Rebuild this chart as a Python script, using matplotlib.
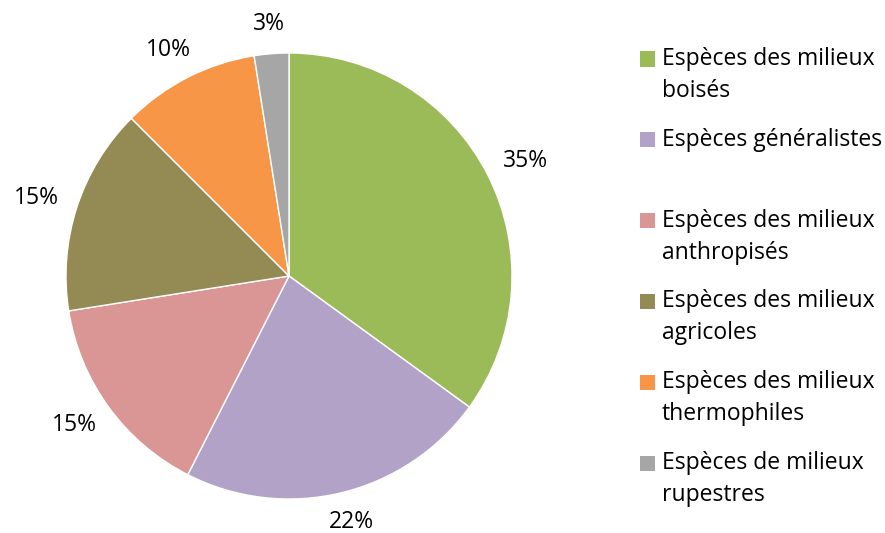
import numpy as np
import matplotlib
matplotlib.use("Agg")
import matplotlib.pyplot as plt
from matplotlib.patches import Rectangle

categories = [
    "Espèces des milieux\nboisés",
    "Espèces généralistes",
    "Espèces des milieux\nanthropisés",
    "Espèces des milieux\nagricoles",
    "Espèces des milieux\nthermophiles",
    "Espèces de milieux\nrupestres",
]
counts = [14, 9, 6, 6, 4, 1]
pct_labels = ["35%", "22%", "15%", "15%", "10%", "3%"]
colors = ["#9BBB59", "#B3A2C7", "#D99694", "#948A54", "#F79646", "#A6A6A6"]

plt.rcParams["font.family"] = ["Open Sans", "DejaVu Sans"]
FS = 16.5

fig = plt.figure(figsize=(8.85, 5.33), dpi=100)
W, H = 885, 533
cx, cy, r = 289, 276, 223
ax = fig.add_axes([(cx - r) / W, (H - cy - r) / H, 2 * r / W, 2 * r / H])
wedges, texts = ax.pie(
    counts, labels=pct_labels, colors=colors, startangle=90, counterclock=False,
    labeldistance=1.19, radius=1.0,
    wedgeprops=dict(edgecolor="white", linewidth=1.0),
    textprops=dict(fontsize=FS, color="black"),
)
ax.set_xlim(-1, 1)
ax.set_ylim(-1, 1)
ax.set_aspect("equal")
ax.axis("off")

# Excel "outside end" label placement: text box just outside the rim
fig.canvas.draw()
renderer = fig.canvas.get_renderer()
gap = 20.0 / r
for w, t in zip(wedges, texts):
    t.set_ha("center")
    t.set_va("center")
    ang = np.deg2rad(0.5 * (w.theta1 + w.theta2))
    bb = t.get_window_extent(renderer)
    hw = bb.width / 2 / r
    hh = bb.height / 2 / r * 0.85
    c, s = np.cos(ang), np.sin(ang)
    t.set_position(((1 + gap) * c + hw * c, (1 + gap) * s + hh * s))

# legend drawn manually (Excel style: square aligned with first line)
sq = 15
x_sq = 640
x_txt = 662
y0 = 59
step = 80.8
for i, (lab, col) in enumerate(zip(categories, colors)):
    yc = y0 + i * step
    fig.patches.append(Rectangle((x_sq / W, (H - yc - sq / 2) / H), sq / W, sq / H,
                                 transform=fig.transFigure, facecolor=col,
                                 edgecolor="none"))
    lines = lab.split("\n")
    for k, line in enumerate(lines):
        fig.text(x_txt / W, (H - yc - 32 * k) / H, line, fontsize=FS,
                 ha="left", va="center", color="black")

fig.savefig("out.png", dpi=100)
